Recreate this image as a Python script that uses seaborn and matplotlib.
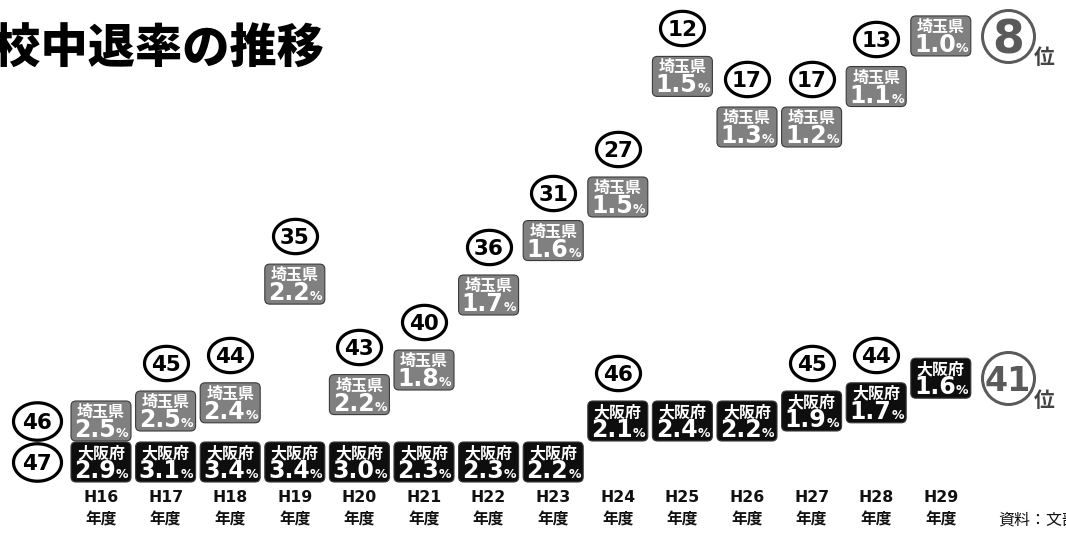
import numpy as np
import pandas as pd
import matplotlib
matplotlib.use("Agg")
import matplotlib.pyplot as plt
import matplotlib.transforms as mtransforms
from matplotlib.patches import FancyBboxPatch
from matplotlib.path import Path
import seaborn as sns

# ---- data -------------------------------------------------------------
years = ["H16", "H17", "H18", "H19", "H20", "H21", "H22",
         "H23", "H24", "H25", "H26", "H27", "H28", "H29"]
saitama_rate = [2.5, 2.5, 2.4, 2.2, 2.2, 1.8, 1.7, 1.6, 1.5, 1.5, 1.3, 1.2, 1.1, 1.0]
saitama_rank = [46, 45, 44, 35, 43, 40, 36, 31, 27, 12, 17, 17, 13, 8]
osaka_rate = [2.9, 3.1, 3.4, 3.4, 3.0, 2.3, 2.3, 2.2, 2.1, 2.4, 2.2, 1.9, 1.7, 1.6]
osaka_rank = [47, 47, 47, 47, 47, 47, 47, 47, 46, 46, 46, 45, 44, 41]
osaka_rank_marked = [True, False, False, False, False, False, False,
                     False, True, False, False, True, True, True]
saitama_name = "埼玉県"
osaka_name = "大阪府"
title = "高校中退率の推移"
source = "資料：文部科学省"

# rank axis: piecewise spacing (rank -> depth in pixels from the top)
rank_knots = [0, 17, 27, 36, 40, 45, 46, 47, 60]
depth_knots = [-45, 127, 197, 295, 370, 411, 421, 462, 590]

# ---- style ------------------------------------------------------------
sns.set_theme(style="white")
CJK = ["Noto Sans CJK JP", "DejaVu Sans"]
plt.rcParams["font.family"] = CJK

W, H, DPI = 1066, 537, 100
X0, DX = 101, 64.6          # first column centre / column pitch (px)
BOX_W, BOX_H = 60, 40       # label box size (px)
CIRCLE_RISE = 48            # rank circle sits this far above its box (px)
GREY = "#808080"
DARK = "#0e0e0e"


def pt(v):
    """pixels -> points"""
    return v * 72 / DPI


fig = plt.figure(figsize=(W / DPI, H / DPI), dpi=DPI)
fig.patch.set_facecolor("white")
ax = fig.add_axes([0, 0, 1, 1])
ax.set_axis_off()

fwd = lambda r: np.interp(r, rank_knots, depth_knots)
inv = lambda d: np.interp(d, depth_knots, rank_knots)
ax.set_yscale("function", functions=(fwd, inv))

n = len(years)
xs = np.arange(n)

# ---- rank circles -----------------------------------------------------
t = np.linspace(0, 2 * np.pi, 120)
oval = Path(np.column_stack([np.cos(t), 0.78 * np.sin(t)]), closed=True)

rows = []
for i in range(n):
    rows.append(dict(x=i, rank=saitama_rank[i], pref="saitama", show=True))
    rows.append(dict(x=i, rank=osaka_rank[i], pref="osaka", show=osaka_rank_marked[i]))
ranks = pd.DataFrame(rows)
ranks = ranks[ranks["show"]]
first = ranks[ranks["x"] == 0]
last = ranks[ranks["x"] == n - 1]
middle = ranks[(ranks["x"] > 0) & (ranks["x"] < n - 1)]


def shifted(dx_px, dy_px):
    return ax.transData + mtransforms.ScaledTranslation(dx_px / DPI, dy_px / DPI,
                                                        fig.dpi_scale_trans)


groups = [
    # data, dx, dy, marker, size(px)
    (middle, 0, CIRCLE_RISE, oval, 44),
    (first, -64, 0, oval, 48),
]
for data, dx, dy, mk, size in groups:
    sns.scatterplot(data=data, x="x", y="rank", marker=mk, s=pt(size) ** 2,
                    color="white", edgecolor="black", linewidth=pt(3.2),
                    legend=False, ax=ax, zorder=4)
    ax.collections[-1].set_offset_transform(shifted(dx, dy))
    for _, r in data.iterrows():
        ax.annotate(str(r["rank"]), xy=(r["x"], r["rank"]), xytext=(pt(dx), pt(dy)),
                    textcoords="offset points", ha="center", va="center_baseline",
                    fontsize=15.5, fontweight="bold", family="DejaVu Sans",
                    color="black", zorder=5)

# large final-year circles with the "位" suffix
BIG_DX = 67
sns.scatterplot(data=last, x="x", y="rank", marker="o", s=pt(52) ** 2,
                color="white", edgecolor="#5a5a5a", linewidth=pt(3),
                legend=False, ax=ax, zorder=4)
ax.collections[-1].set_offset_transform(shifted(BIG_DX, 0))
for _, r in last.iterrows():
    fs = 33 if r["rank"] < 10 else 24
    ax.annotate(str(r["rank"]), xy=(r["x"], r["rank"]), xytext=(pt(BIG_DX), 0),
                textcoords="offset points", ha="center", va="center_baseline",
                fontsize=fs, fontweight="bold", family="DejaVu Sans",
                color="#5a5a5a", zorder=5)
    ax.annotate("位", xy=(r["x"], r["rank"]), xytext=(pt(BIG_DX + 26), -pt(22)),
                textcoords="offset points", ha="left", va="center",
                fontsize=15, fontweight="bold", color="#444444", zorder=5)

# ---- value boxes ------------------------------------------------------


def value_box(x, rank, head, value, face):
    trans = fig.dpi_scale_trans + mtransforms.ScaledTranslation(x, rank, ax.transData)
    ax.add_patch(FancyBboxPatch((-BOX_W / 2 / DPI, -BOX_H / 2 / DPI),
                                BOX_W / DPI, BOX_H / DPI,
                                boxstyle=f"round,pad=0,rounding_size={5 / DPI}",
                                transform=trans, facecolor=face,
                                edgecolor="#3a3a3a", linewidth=0.8, zorder=3))
    ax.annotate(head, xy=(x, rank), xytext=(0, pt(9)), textcoords="offset points",
                ha="center", va="center", fontsize=11.5, fontweight="bold",
                color="white", zorder=4)
    ax.annotate(f"{value:.1f}", xy=(x, rank), xytext=(pt(15), -pt(16)),
                textcoords="offset points", ha="right", va="baseline",
                fontsize=17, fontweight="bold", family="DejaVu Sans",
                color="white", zorder=4)
    ax.annotate("%", xy=(x, rank), xytext=(pt(15), -pt(16)),
                textcoords="offset points", ha="left", va="baseline",
                fontsize=9, fontweight="bold", family="DejaVu Sans",
                color="white", zorder=4)


for i in range(n):
    value_box(xs[i], saitama_rank[i], saitama_name, saitama_rate[i], GREY)
    value_box(xs[i], osaka_rank[i], osaka_name, osaka_rate[i], DARK)

# ---- axes limits ------------------------------------------------------
ax.set_xlim(-X0 / DX, (W - X0) / DX)
ax.set_ylim(inv(H), inv(0))

# ---- year labels, title, source --------------------------------------
lab = mtransforms.blended_transform_factory(ax.transData, fig.transFigure)
for i, y in enumerate(years):
    ax.text(i, 1 - 498 / H, y, transform=lab, ha="center", va="center",
            fontsize=11.3, fontweight="bold", family="DejaVu Sans", color="#111111")
    ax.text(i, 1 - 520 / H, "年度", transform=lab, ha="center", va="center",
            fontsize=11.3, fontweight="bold", color="#111111")

fig.text(-54 / W, 1 - 50 / H, title, ha="left", va="center",
         fontsize=34, fontweight="black", color="black")
fig.text(998 / W, 1 - 521 / H, source, ha="left", va="center",
         fontsize=11.5, color="#111111")

fig.savefig("out.png", dpi=DPI, facecolor="white")
